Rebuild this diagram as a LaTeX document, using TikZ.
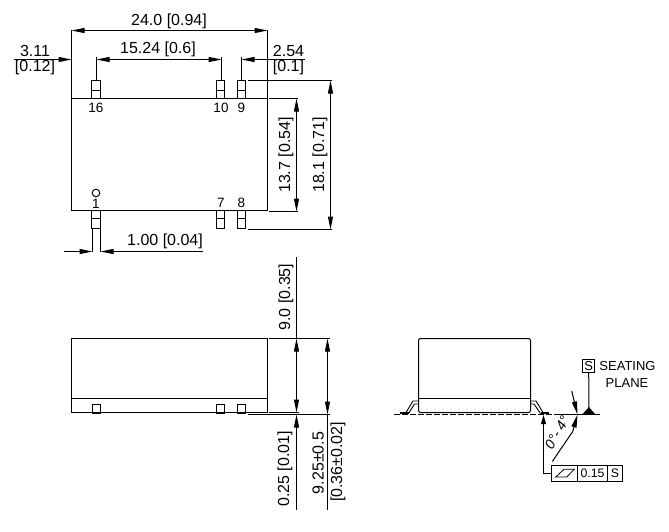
\documentclass[tikz,border=0pt]{standalone}
\usepackage{fontspec}
\setmainfont{Liberation Sans}
\usetikzlibrary{arrows.meta}
\tikzset{
  ln/.style={line width=1pt,line cap=butt},
  dimA/.style={ln,-{Stealth[length=13pt,width=5pt,inset=0pt]}},
  dimB/.style={ln,{Stealth[length=13pt,width=5pt,inset=0pt]}-{Stealth[length=13pt,width=5pt,inset=0pt]}},
  dimR/.style={ln,{Stealth[length=13pt,width=5pt,inset=0pt]}-},
  lab/.style={inner sep=0pt,font=\fontsize{16}{18}\selectfont},
  pinlab/.style={inner sep=0pt,font=\fontsize{13.5}{16}\selectfont},
  small/.style={inner sep=0pt,font=\fontsize{13}{15}\selectfont},
  tiny/.style={inner sep=0pt,font=\fontsize{12.3}{15}\selectfont},
}
\begin{document}
\begin{tikzpicture}[x=1pt,y=-1pt]
\useasboundingbox (0,0) rectangle (669,531);
% ---------- top view
\draw[ln] (71.5,98.5) rectangle (267.5,210.5);
\foreach \a/\b in {91.5/100.5,216.5/224.5,237.5/245.5}{
  \draw[ln] (\a,80.5) rectangle (\b,98.5);
  \draw[ln] (\a,90.5) -- (\b,90.5);
  \draw[ln] (\a,210.5) rectangle (\b,228.5);
  \draw[ln] (\a,218.5) -- (\b,218.5);
}
\draw[ln] (96,193) circle (3.8);
\node[pinlab] (p16) at (96,107.5) {16};
\node[pinlab] (p10) at (221,107.5) {10};
\node[pinlab] (p9) at (241.5,107.5) {9};
\node[pinlab] (p1) at (96,204) {1};
\node[pinlab] (p7) at (221,203) {7};
\node[pinlab] (p8) at (241.5,203) {8};
% top dimensions
\draw[ln] (71.5,30) -- (71.5,98) (267.5,30) -- (267.5,98);
\draw[dimB] (71.5,30.5) -- (267.5,30.5);
\node[lab] (d24) at (169,21.5) {24.0 [0.94]};
\draw[ln] (96.5,57) -- (96.5,80) (221.5,57) -- (221.5,80) (241.5,57) -- (241.5,80);
\draw[dimA] (14,59.5) -- (71.5,59.5);
\draw[dimB] (96.5,59.5) -- (221.5,59.5);
\draw[dimR] (241.5,59.5) -- (305,59.5);
\node[lab] (d1524) at (158,49.5) {15.24 [0.6]};
\node[lab] (d311a) at (35,50.5) {3.11};
\node[lab] (d311b) at (35,67.5) {[0.12]};
\node[lab] (d254a) at (288.5,50.5) {2.54};
\node[lab] (d254b) at (288.5,67.5) {[0.1]};
% right dimensions
\draw[ln] (248,80.5) -- (332,80.5) (269,98.5) -- (298,98.5);
\draw[ln] (269,211.5) -- (298,211.5) (248,229.5) -- (332,229.5);
\draw[dimB] (296.5,98.5) -- (296.5,211.5);
\draw[dimB] (330.5,80.5) -- (330.5,229.5);
\node[lab,rotate=90] (d137) at (286,155) {13.7 [0.54]};
\node[lab,rotate=90] (d181) at (320,155) {18.1 [0.71]};
% 1.00
\draw[ln] (92.5,229) -- (92.5,252) (100.5,229) -- (100.5,252);
\draw[dimA] (64,251.5) -- (92.5,251.5);
\draw[dimR] (100.5,251.5) -- (203,251.5);
\node[lab] (d100) at (165,241.5) {1.00 [0.04]};
% ---------- side view
\draw[ln] (71.5,338.5) rectangle (267.5,412.5);
\draw[ln] (71.5,398.5) -- (267.5,398.5);
\foreach \a/\b in {92.5/100.5,216.5/224.5,237.5/245.5}{
  \draw[ln] (\a,404.5) rectangle (\b,413.5);
}
\draw[ln] (269,338.5) -- (330,338.5) (269,412.5) -- (299,412.5) (248,414.5) -- (330,414.5);
\draw[ln] (296.5,257) -- (296.5,338.5);
\draw[dimB] (296.5,338.5) -- (296.5,412.5);
\draw[dimR] (296.5,414.5) -- (296.5,510);
\draw[dimB] (327.5,338.5) -- (327.5,414.5);
\draw[ln] (327.5,414.5) -- (327.5,510);
\node[lab,rotate=90] (d90) at (286,297) {9.0 [0.35]};
\node[lab,rotate=90] (d025) at (285,469) {0.25 [0.01]};
\node[lab,rotate=90] (d925) at (318,463) {9.25±0.5};
\node[lab,rotate=90] (d036) at (338,462) {[0.36±0.02]};
% ---------- end view
\draw[ln,rounded corners=2pt] (418.5,412.5) -- (418.5,338.5) -- (530.5,338.5) -- (530.5,412.5) -- cycle;
\draw[ln] (418.5,398.5) -- (530.5,398.5);
\draw[line width=.9pt] (418,401) -- (413,401) -- (406,412.5) (418,404) -- (414.5,404) -- (408.5,413.5);
\draw[line width=.9pt] (531,401) -- (536,401) -- (543,412.5) (531,404) -- (534,404) -- (540.5,413.5);
\draw[line width=2pt] (400,413) -- (409,413) (541,413) -- (549,413);
\draw[ln,dash pattern=on 6pt off 2pt] (394,414.5) -- (556,414.5);
\draw[ln] (556,414.5) -- (600,414.5);
\draw[fill=black,line width=.5pt] (589,407.5) -- (582.5,414.5) -- (595,414.5) -- cycle;
\node[draw,ln,inner sep=0pt,minimum width=12.5pt,minimum height=12.5pt,small] (sbox) at (588.7,366) {S};
\draw[ln] (sbox.south) -- (589,410);
\node[small,align=center] (seat) at (627.5,366) {SEATING};
\node[small] (plane) at (627,383) {PLANE};
\coordinate (tip) at (577.5,414.5);
\draw[dimA] (571.7,391) -- (tip);
\draw[dimR] (tip) -- (572.7,431.5) -- (552.3,461.5);
\node[rotate=60,inner sep=0pt,font=\fontsize{14}{16}\selectfont\itshape] (ang) at (557,432.5) {0°- 4°};
% frame
\draw[ln] (551.5,465.5) rectangle (622.5,481.5);
\draw[ln] (577.5,465.5) -- (577.5,481.5) (607.5,465.5) -- (607.5,481.5);
\draw[line width=.8pt] (555.7,477) -- (564,469.3) -- (574.3,469.3) -- (566.7,477) -- cycle;
\node[tiny] (tol) at (592.5,473.3) {0.15};
\node[tiny] (sref) at (615,473.3) {S};
\draw[ln,-{Stealth[length=9pt,width=5pt,inset=0pt]}] (551.5,473.5) -- (543.5,473.5) -- (543.5,415);
\end{tikzpicture}
\end{document}
